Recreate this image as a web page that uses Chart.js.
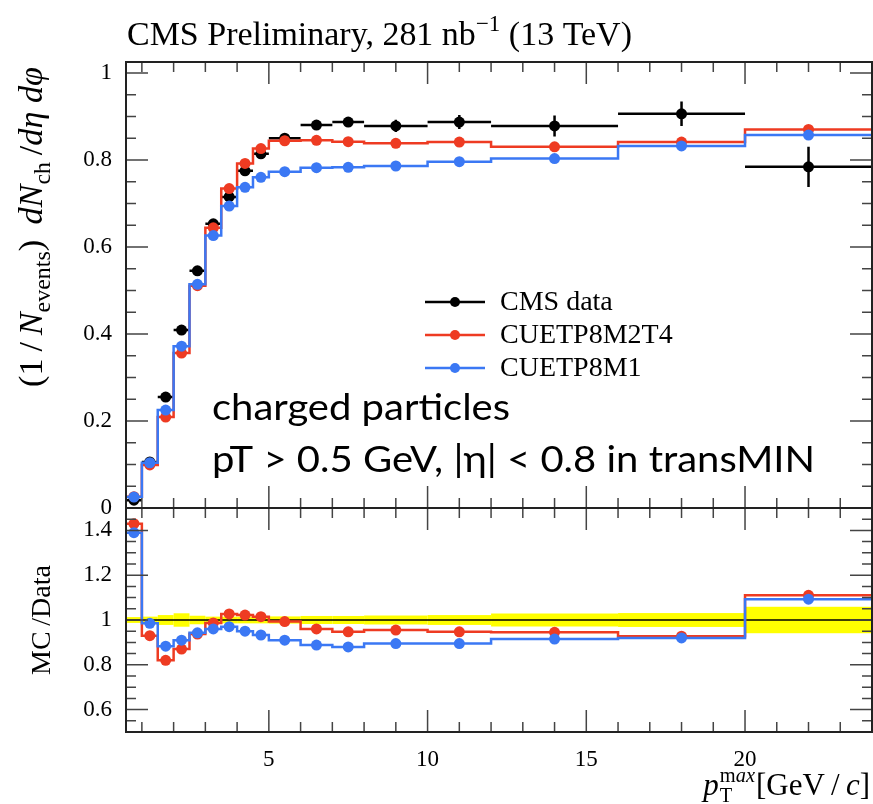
<!DOCTYPE html>
<html>
<head>
<meta charset="utf-8">
<script src="https://cdn.jsdelivr.net/npm/chart.js@4.4.1/dist/chart.umd.min.js"></script>
<style>
html, body { margin: 0; padding: 0; background: #fff; }
#wrap { position: relative; width: 873px; height: 804px; overflow: hidden; }
#top { position: absolute; left: 0; top: 0; }
#bot { position: absolute; left: 0; top: 500px; }
</style>
</head>
<body>
<div id="wrap">
  <canvas id="top" width="873" height="530"></canvas>
  <canvas id="bot" width="873" height="304"></canvas>
</div>
<script>
// bins in pT max [GeV/c]
const binEdges = [0.5, 1, 1.5, 2, 2.5, 3, 3.5, 4, 4.5, 5, 6, 7, 8, 10, 12, 16, 20, 24];

// (1/Nevents) dNch/deta dphi
const cmsData = [0.018, 0.106, 0.255, 0.409, 0.545, 0.653, 0.715, 0.775, 0.814, 0.850, 0.880, 0.887, 0.878, 0.887, 0.878, 0.906, 0.784];
const cmsErr  = [0.003, 0.004, 0.005, 0.006, 0.006, 0.006, 0.007, 0.007, 0.007, 0.008, 0.010, 0.011, 0.014, 0.016, 0.024, 0.028, 0.046];
const m2t4    = [0.026, 0.099, 0.209, 0.356, 0.511, 0.644, 0.734, 0.792, 0.826, 0.844, 0.845, 0.842, 0.838, 0.841, 0.830, 0.841, 0.870];
const m1      = [0.025, 0.104, 0.225, 0.372, 0.514, 0.626, 0.694, 0.737, 0.760, 0.773, 0.782, 0.783, 0.786, 0.796, 0.803, 0.832, 0.857];

// MC / Data
const ratioM2T4 = [1.43, 0.93, 0.82, 0.87, 0.937, 0.987, 1.027, 1.022, 1.015, 0.993, 0.960, 0.947, 0.955, 0.947, 0.945, 0.928, 1.110];
const ratioM1   = [1.39, 0.985, 0.883, 0.91, 0.943, 0.960, 0.970, 0.950, 0.933, 0.910, 0.888, 0.880, 0.895, 0.895, 0.915, 0.920, 1.093];
const dataBand  = [0.013, 0.015, 0.022, 0.030, 0.019, 0.015, 0.015, 0.015, 0.015, 0.016, 0.018, 0.018, 0.020, 0.022, 0.029, 0.031, 0.059];

const xMajorTicks = [5, 10, 15, 20];
const yTicksTop = [0, 0.2, 0.4, 0.6, 0.8, 1];
const yTicksRatio = [0.6, 0.8, 1, 1.2, 1.4];

const SERIF = '"Liberation Serif", "DejaVu Serif", serif';
const SANS = 'Lato, "Open Sans", sans-serif';
const RED = '#ee3b22';
const BLUE = '#3b78f4';

const binCenters = binEdges.slice(0, -1).map((lo, i) => (lo + binEdges[i + 1]) / 2);

function stepPoints(vals) {
  const pts = vals.map((v, i) => ({ x: binEdges[i], y: v }));
  pts.push({ x: binEdges[binEdges.length - 1], y: vals[vals.length - 1] });
  return pts;
}
function markerPoints(vals) {
  return vals.map((v, i) => ({ x: binCenters[i], y: v }));
}
function stepSet(vals, color) {
  return { data: stepPoints(vals), showLine: true, stepped: true, borderColor: color, borderWidth: 2.5, pointRadius: 0, fill: false };
}
function markerSet(vals, color) {
  return { data: markerPoints(vals), showLine: false, pointRadius: 5.5, backgroundColor: color, borderWidth: 0 };
}

// text with mixed fonts: parts = [text, font, dy]
function richWidth(ctx, parts) {
  let w = 0;
  parts.forEach(p => { ctx.font = p[1]; w += ctx.measureText(p[0]).width; });
  return w;
}
function drawRich(ctx, parts, x, y, align) {
  const w = richWidth(ctx, parts);
  let cx = align === 'right' ? x - w : align === 'center' ? x - w / 2 : x;
  parts.forEach(p => {
    ctx.font = p[1];
    ctx.fillText(p[0], cx, y + (p[2] || 0));
    cx += ctx.measureText(p[0]).width;
  });
}

function framePlugin(yMinor, yMajor) {
  return {
    id: 'frame',
    afterDraw(chart) {
      const { ctx, chartArea: a, scales } = chart;
      const xs = scales.x, ys = scales.y;
      ctx.save();
      ctx.strokeStyle = '#444';
      ctx.lineWidth = 1.5;
      ctx.beginPath();
      for (let v = 1; v < 24; v++) {
        const px = xs.getPixelForValue(v);
        const L = v % 5 === 0 ? 22 : 10;
        ctx.moveTo(px, a.bottom); ctx.lineTo(px, a.bottom - L);
        ctx.moveTo(px, a.top); ctx.lineTo(px, a.top + L);
      }
      yMinor.forEach(v => {
        const py = ys.getPixelForValue(v);
        ctx.moveTo(a.left, py); ctx.lineTo(a.left + 10, py);
        ctx.moveTo(a.right, py); ctx.lineTo(a.right - 10, py);
      });
      yMajor.forEach(v => {
        const py = ys.getPixelForValue(v);
        ctx.moveTo(a.left, py); ctx.lineTo(a.left + 22, py);
        ctx.moveTo(a.right, py); ctx.lineTo(a.right - 22, py);
      });
      ctx.stroke();
      ctx.strokeStyle = '#222';
      ctx.lineWidth = 2;
      ctx.strokeRect(a.left, a.top, a.right - a.left, a.bottom - a.top);
      ctx.restore();
    }
  };
}

const errorBars = {
  id: 'errorBars',
  beforeDatasetsDraw(chart) {
    const { ctx, scales: { x, y } } = chart;
    ctx.save();
    ctx.strokeStyle = '#000';
    ctx.lineWidth = 2.5;
    ctx.beginPath();
    cmsData.forEach((v, i) => {
      const py = y.getPixelForValue(v);
      ctx.moveTo(x.getPixelForValue(binEdges[i]), py);
      ctx.lineTo(x.getPixelForValue(binEdges[i + 1]), py);
      const px = x.getPixelForValue(binCenters[i]);
      ctx.moveTo(px, y.getPixelForValue(v - cmsErr[i]));
      ctx.lineTo(px, y.getPixelForValue(v + cmsErr[i]));
    });
    ctx.stroke();
    ctx.restore();
  }
};

const band = {
  id: 'band',
  beforeDatasetsDraw(chart) {
    const { ctx, scales: { x, y } } = chart;
    ctx.save();
    ctx.fillStyle = '#ffff00';
    dataBand.forEach((e, i) => {
      const x0 = x.getPixelForValue(binEdges[i]);
      const x1 = x.getPixelForValue(binEdges[i + 1]);
      const y0 = y.getPixelForValue(1 + e);
      const y1 = y.getPixelForValue(1 - e);
      ctx.fillRect(x0, y0, x1 - x0, y1 - y0);
    });
    ctx.restore();
  }
};

const topText = {
  id: 'topText',
  afterDraw(chart) {
    const ctx = chart.ctx;
    ctx.save();
    ctx.fillStyle = '#000';
    ctx.textBaseline = 'alphabetic';

    // title
    let f = 27;
    const title = s => [
      ['CMS Preliminary, 281 nb', `${s}px ${SERIF}`],
      ['\u22121', `${s * 0.68}px ${SERIF}`, -s * 0.42],
      [' (13 TeV)', `${s}px ${SERIF}`]
    ];
    f = f * 505 / richWidth(ctx, title(f));
    drawRich(ctx, title(f), 127, 45, 'left');

    // y title
    const yt = s => [
      ['(1\u2009/\u2009', `${s}px ${SERIF}`],
      ['N', `italic ${s}px ${SERIF}`],
      ['events', `${s * 0.7}px ${SERIF}`, s * 0.22],
      [')\u2009 ', `${s}px ${SERIF}`],
      ['dN', `italic ${s}px ${SERIF}`],
      ['ch', `${s * 0.7}px ${SERIF}`, s * 0.22],
      ['\u2009/', `${s}px ${SERIF}`],
      ['d\u03b7 d\u03c6', `italic ${s}px ${SERIF}`]
    ];
    let fy = 28;
    fy = fy * 320 / richWidth(ctx, yt(fy));
    ctx.save();
    ctx.translate(42, 67);
    ctx.rotate(-Math.PI / 2);
    drawRich(ctx, yt(fy), 0, 0, 'right');
    ctx.restore();

    // legend
    const rows = [['CMS data', '#000'], ['CUETP8M2T4', RED], ['CUETP8M1', BLUE]];
    ctx.font = `28px ${SERIF}`;
    ctx.textBaseline = 'middle';
    rows.forEach((r, i) => {
      const ly = 302 + i * 33;
      ctx.strokeStyle = r[1];
      ctx.lineWidth = 2.5;
      ctx.beginPath(); ctx.moveTo(425, ly); ctx.lineTo(485, ly); ctx.stroke();
      ctx.fillStyle = r[1];
      ctx.beginPath(); ctx.arc(455, ly, 5, 0, Math.PI * 2); ctx.fill();
      ctx.fillStyle = '#000';
      ctx.fillText(r[0], 500, ly + 1);
    });

    // annotation
    ctx.textBaseline = 'alphabetic';
    const l1 = 'charged particles';
    const l2 = 'pT > 0.5 GeV, |\u03b7| < 0.8 in transMIN';
    ctx.font = `37px ${SANS}`;
    const sx = 603 / ctx.measureText(l2).width;
    ctx.save();
    ctx.translate(212, 0);
    ctx.scale(sx, 1);
    ctx.fillText(l1, 0, 420);
    ctx.fillText(l2, 0, 472);
    ctx.restore();
    ctx.restore();
  }
};

const botText = {
  id: 'botText',
  afterDraw(chart) {
    const ctx = chart.ctx;
    const off = 500;
    ctx.save();
    ctx.fillStyle = '#000';
    ctx.textBaseline = 'alphabetic';
    ctx.save();
    ctx.translate(50, 620 - off);
    ctx.rotate(-Math.PI / 2);
    drawRich(ctx, [['MC\u2009/Data', `28px ${SERIF}`]], 0, 0, 'center');
    ctx.restore();

    // x title, right aligned
    const s = 31;
    const tail = [['[GeV\u2009/\u2009', `${s}px ${SERIF}`], ['c', `italic ${s}px ${SERIF}`], [']', `${s}px ${SERIF}`]];
    const tw = richWidth(ctx, tail);
    ctx.font = `${s * 0.66}px ${SERIF}`;
    const wT = ctx.measureText('T').width;
    const wm = ctx.measureText('m').width;
    ctx.font = `italic ${s * 0.66}px ${SERIF}`;
    const wax = ctx.measureText('ax').width;
    const wsup = Math.max(wT, wm + wax);
    ctx.font = `italic ${s}px ${SERIF}`;
    const wp = ctx.measureText('p').width;
    const right = 870, base = 795 - off;
    let x0 = right - tw - wsup - wp - 2;
    ctx.font = `italic ${s}px ${SERIF}`;
    ctx.fillText('p', x0, base);
    x0 += wp + 1;
    ctx.font = `${s * 0.66}px ${SERIF}`;
    ctx.fillText('T', x0, base + 7);
    ctx.fillText('m', x0, base - 13);
    ctx.font = `italic ${s * 0.66}px ${SERIF}`;
    ctx.fillText('ax', x0 + wm, base - 13);
    drawRich(ctx, tail, right, base, 'right');
    ctx.restore();
  }
};

const yMinorTop = [];
for (let k = 0; k <= 20; k++) yMinorTop.push(k * 0.05);
const yMinorRatio = [];
for (let k = 10; k <= 30; k++) yMinorRatio.push(k * 0.05);

const tickFont = { family: SERIF, size: 23 };

new Chart(document.getElementById('top'), {
  type: 'scatter',
  data: {
    datasets: [
      markerSet(m1, BLUE),
      stepSet(m1, BLUE),
      markerSet(m2t4, RED),
      stepSet(m2t4, RED),
      markerSet(cmsData, '#000')
    ]
  },
  options: {
    responsive: false,
    animation: false,
    layout: { autoPadding: false, padding: { top: 62, right: 1, bottom: 22, left: 0 } },
    plugins: { legend: { display: false }, tooltip: { enabled: false } },
    scales: {
      x: { type: 'linear', min: 0.5, max: 24, display: false },
      y: {
        type: 'linear', min: 0, max: 1.025,
        afterFit(s) { s.width = 126; s.paddingTop = 0; s.paddingBottom = 0; },
        afterBuildTicks(s) { s.ticks = yTicksTop.map(v => ({ value: v })); },
        grid: { display: false, drawTicks: false },
        border: { display: false },
        ticks: { padding: 14, color: '#000', font: tickFont, callback: v => String(v) }
      }
    }
  },
  plugins: [errorBars, framePlugin(yMinorTop, yTicksTop), topText]
});

new Chart(document.getElementById('bot'), {
  type: 'scatter',
  data: {
    datasets: [
      markerSet(ratioM1, BLUE),
      stepSet(ratioM1, BLUE),
      markerSet(ratioM2T4, RED),
      stepSet(ratioM2T4, RED),
      { data: [{ x: 0.5, y: 1 }, { x: 24, y: 1 }], showLine: true, borderColor: '#000', borderWidth: 1.5, pointRadius: 0 }
    ]
  },
  options: {
    responsive: false,
    animation: false,
    layout: { autoPadding: false, padding: { top: 8, right: 1, bottom: 0, left: 0 } },
    plugins: { legend: { display: false }, tooltip: { enabled: false } },
    scales: {
      x: {
        type: 'linear', min: 0.5, max: 24,
        afterFit(s) { s.height = 72; s.paddingLeft = 0; s.paddingRight = 0; },
        afterBuildTicks(s) { s.ticks = xMajorTicks.map(v => ({ value: v })); },
        grid: { display: false, drawTicks: false },
        border: { display: false },
        ticks: { padding: 14, color: '#000', font: tickFont, maxRotation: 0, autoSkip: false }
      },
      y: {
        type: 'linear', min: 0.5, max: 1.5,
        afterFit(s) { s.width = 126; s.paddingTop = 0; s.paddingBottom = 0; },
        afterBuildTicks(s) { s.ticks = yTicksRatio.map(v => ({ value: v })); },
        grid: { display: false, drawTicks: false },
        border: { display: false },
        ticks: { padding: 14, color: '#000', font: tickFont, callback: v => String(v) }
      }
    }
  },
  plugins: [band, framePlugin(yMinorRatio, yTicksRatio), botText]
});
</script>
</body>
</html>
